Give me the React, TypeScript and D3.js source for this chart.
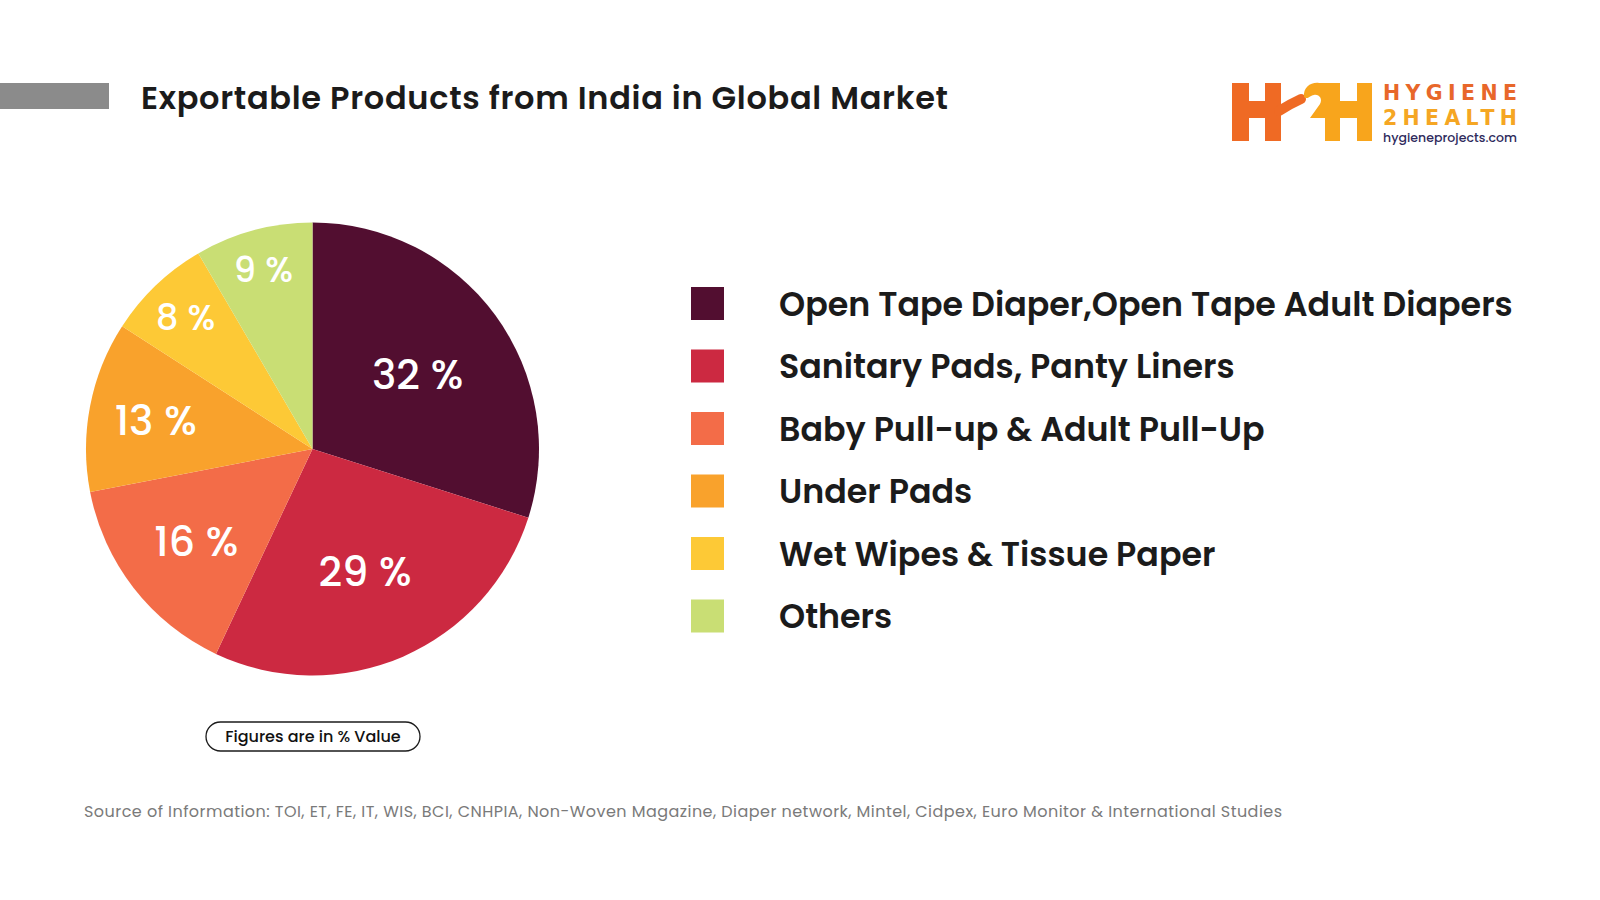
import React from "react";
import * as d3 from "d3";

// ---- Data ----
const categories = [
  "Open Tape Diaper,Open Tape Adult Diapers",
  "Sanitary Pads, Panty Liners",
  "Baby Pull-up & Adult Pull-Up",
  "Under Pads",
  "Wet Wipes & Tissue Paper",
  "Others",
];
const values = [32, 29, 16, 13, 8, 9];
const valueLabels = ["32 %", "29 %", "16 %", "13 %", "8 %", "9 %"];
const colors = ["#520e30", "#cc2941", "#f36c48", "#f9a22c", "#fdc936", "#c9de74"];

const title = "Exportable Products from India in Global Market";
const note = "Figures are in % Value";
const source =
  "Source of Information: TOI, ET, FE, IT, WIS, BCI, CNHPIA, Non-Woven Magazine, Diaper network, Mintel, Cidpex, Euro Monitor & International Studies";

// ---- Style ----
const FONT = "Poppins, Inter, 'Noto Sans', sans-serif";
const LOGO_FONT = "'DejaVu Sans', Inter, sans-serif";
const labelRadiusFrac = [0.575, 0.58, 0.65, 0.705, 0.81, 0.83];
const labelFontSize = [41, 41, 41, 41, 35, 35];

export default function App() {
  const W = 1600;
  const H = 900;
  const cx = 312.5;
  const cy = 449;
  const R = 226.5;

  const pie = d3.pie<number>().sort(null).value((d) => d);
  const arcs = pie(values);
  const arcGen = d3.arc<d3.PieArcDatum<number>>().innerRadius(0).outerRadius(R);

  const legendY = d3.scalePoint<string>().domain(categories).range([303.5, 616]);

  return (
    <svg
      width={W}
      height={H}
      viewBox={`0 0 ${W} ${H}`}
      style={{ position: "absolute", left: 0, top: 0, background: "#fff" }}
      fontFamily={FONT}
    >
      <rect x={0} y={0} width={W} height={H} fill="#ffffff" />

      {/* Header bar + title */}
      <rect x={0} y={83} width={109} height={26} fill="#8b8b8b" />
      <text
        x={141}
        y={109}
        fontSize={32}
        fontWeight={600}
        fill="#1b1b1b"
        textLength={807}
        lengthAdjust="spacing"
      >
        {title}
      </text>

      {/* Logo */}
      <g>
        <g fill="#ef6a24">
          <rect x={1232} y={83} width={17} height={58} />
          <rect x={1249} y={101} width={32} height={17} />
          <rect x={1265} y={83} width={16} height={58} />
          <path
            d="M1279,111 Q1290,104 1301,99"
            fill="none"
            stroke="#ef6a24"
            strokeWidth={10}
            strokeLinecap="round"
          />
        </g>
        <g fill="#f8a51c">
          <rect x={1325} y={83} width={15} height={58} />
          <rect x={1357} y={83} width={15} height={58} />
          <rect x={1340} y={101} width={17} height={17} />
          <path d="M1304,97 C1303,87 1311,82 1319,83 L1326,83 L1326,118 L1310,118 L1320,104 C1323,99 1319,94 1314,95 C1309,96 1308,100 1304,97 Z" />
        </g>
        <text
          x={1383}
          y={100}
          fontFamily={LOGO_FONT}
          fontSize={20.5}
          fontWeight={700}
          fill="#e8672a"
          textLength={134}
          lengthAdjust="spacing"
        >
          HYGIENE
        </text>
        <text
          x={1383}
          y={125}
          fontFamily={LOGO_FONT}
          fontSize={20.5}
          fontWeight={700}
          fill="#f5a623"
          textLength={134}
          lengthAdjust="spacing"
        >
          2HEALTH
        </text>
        <text
          x={1383}
          y={142}
          fontSize={12.5}
          fontWeight={500}
          fill="#2e2a5c"
          textLength={134}
          lengthAdjust="spacing"
        >
          hygieneprojects.com
        </text>
      </g>

      {/* Pie */}
      <g transform={`translate(${cx},${cy})`}>
        {arcs.map((a, i) => (
          <path key={i} d={arcGen(a) || ""} fill={colors[i]} />
        ))}
        {arcs.map((a, i) => {
          const r = R * labelRadiusFrac[i];
          const c = d3
            .arc<d3.PieArcDatum<number>>()
            .innerRadius(r)
            .outerRadius(r)
            .centroid(a);
          const fs = labelFontSize[i];
          return (
            <text
              key={"l" + i}
              x={c[0]}
              y={c[1] + fs * 0.4}
              textAnchor="middle"
              fontSize={fs}
              fontWeight={500}
              fill="#ffffff"
            >
              {valueLabels[i]}
            </text>
          );
        })}
      </g>

      {/* Legend */}
      {categories.map((c, i) => {
        const y = legendY(c) as number;
        return (
          <g key={c}>
            <rect x={691} y={y - 16.5} width={33} height={33} fill={colors[i]} />
            <text x={779} y={y + 12} fontSize={33.3} fontWeight={600} fill="#1b1b1b">
              {c}
            </text>
          </g>
        );
      })}

      {/* Note pill */}
      <rect
        x={206}
        y={722}
        width={214}
        height={29}
        rx={14.5}
        fill="#fff"
        stroke="#1b1b1b"
        strokeWidth={1.3}
      />
      <text x={313} y={741.7} textAnchor="middle" fontSize={16} fontWeight={500} fill="#111">
        {note}
      </text>

      {/* Source */}
      <text
        x={84}
        y={816.7}
        fontSize={16}
        fontWeight={400}
        fill="#7a7a7a"
        textLength={1198}
        lengthAdjust="spacing"
      >
        {source}
      </text>
    </svg>
  );
}
